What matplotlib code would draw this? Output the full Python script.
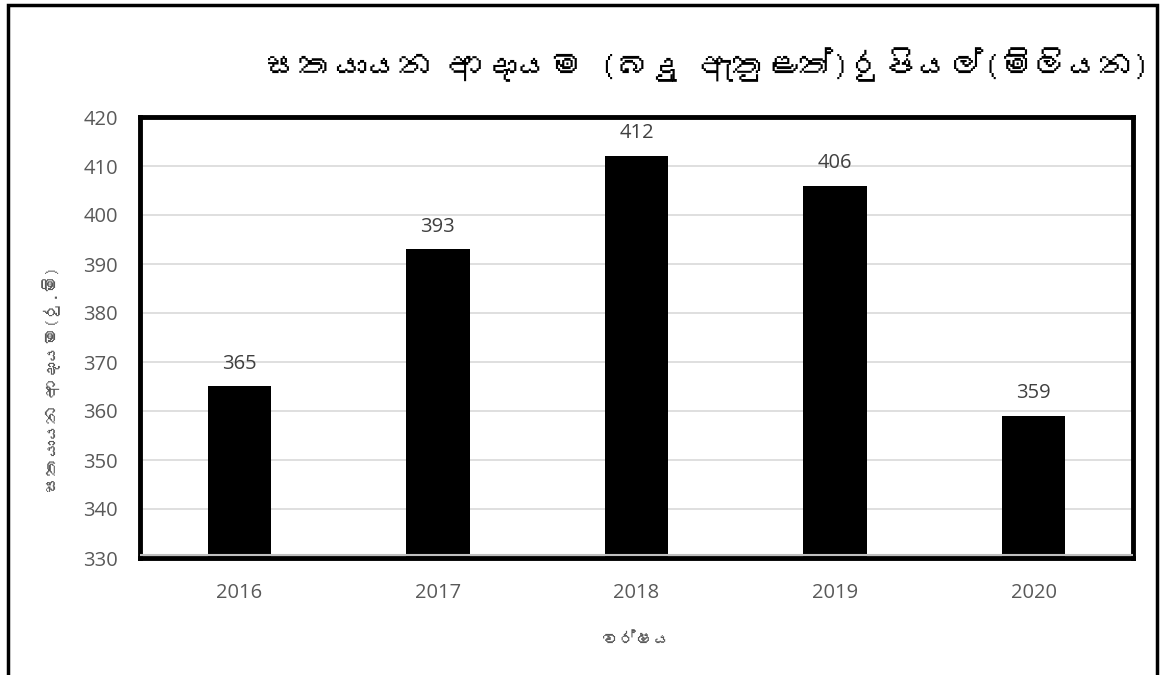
import matplotlib
matplotlib.use("Agg")
import matplotlib.pyplot as plt
from matplotlib import font_manager
from matplotlib.ft2font import FT2Font
from matplotlib.patches import Rectangle

years = ["2016", "2017", "2018", "2019", "2020"]
income = [365, 393, 412, 406, 359]
title = "සතයායන ආදායම (බදු ඇතුළත්)රුපියල්(මිලියන)"
ylabel = "සතයායන ආදායම(රු.මි)"
xlabel = "වර්ෂය"

# find a font that covers Sinhala
sin_family = None
for fe in font_manager.fontManager.ttflist:
    try:
        cm = FT2Font(fe.fname).get_charmap()
        if 0x0DC3 in cm:
            sin_family = fe.name
            break
    except Exception:
        continue
families = ([sin_family] if sin_family else []) + ["DejaVu Sans"]
plt.rcParams["font.family"] = families

fig = plt.figure(figsize=(11.61, 6.75), dpi=100)
ax = fig.add_axes([140/1161, 1 - 558/675, (1133-140)/1161, (558-117)/675])

x = list(range(len(years)))
ax.bar(x, income, width=0.32, color="black", zorder=3)
for xi, v in zip(x, income):
    ax.text(xi, v + 2.6, str(v), ha="center", va="bottom", fontsize=14.5, color="#404040",
            family=["Open Sans", "DejaVu Sans"])

ax.set_xlim(-0.5, 4.5)
ax.set_ylim(330, 420)
ax.set_yticks(range(330, 421, 10))
ax.set_xticks(x)
ax.set_xticklabels(years)
ax.tick_params(length=0, labelsize=14.5, colors="#595959")
ax.tick_params(axis="x", pad=18)
ax.tick_params(axis="y", pad=16)
for lab in ax.get_xticklabels() + ax.get_yticklabels():
    lab.set_family(["Open Sans", "DejaVu Sans"])
ax.yaxis.grid(True, color="#d9d9d9", lw=1.2, zorder=0)
ax.set_axisbelow(True)
for s in ax.spines.values():
    s.set_linewidth(3.5)
    s.set_color("black")
ax.axhline(330.6, color="#bfbfbf", lw=1.5, zorder=4)

ax.set_ylabel(ylabel, fontsize=12.5, color="#595959")
ax.yaxis.set_label_coords(-0.08, 0.405)
ax.set_xlabel(xlabel, fontsize=12.5, color="#595959")
ax.xaxis.set_label_coords(0.5, -0.17)

fig.text(1150/1161, 1 - 65/675, title, ha="right", va="center", fontsize=24, color="black")

# outer frame
fig.add_artist(Rectangle((8/1161, -0.05), (1157-8)/1161, 1.05 - 5/675, transform=fig.transFigure,
                         fill=False, edgecolor="black", lw=2.5))

fig.savefig("out.png", dpi=100)
